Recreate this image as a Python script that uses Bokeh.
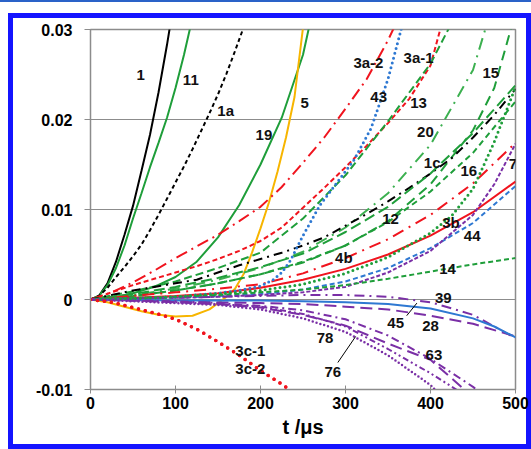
from bokeh.plotting import figure
from bokeh.models import FixedTicker, Label, ColumnDataSource
from bokeh.embed import file_html
from bokeh.resources import INLINE
from bokeh.core.properties import value

# ---------------- data (t in microseconds, S_Hj) ----------------
t_1 = [0, 10, 20, 30, 40, 50, 60, 70, 80, 90, 95]
s_1 = [0, 0.0004, 0.0018, 0.0042, 0.0072, 0.0104, 0.0143, 0.0183, 0.0230, 0.0283, 0.0312]

t_11 = [0, 10, 20, 30, 40, 50, 60, 70, 80, 90, 100, 110, 118]
s_11 = [0, 0.0004, 0.0016, 0.0035, 0.0060, 0.0090, 0.0118, 0.0147, 0.0174, 0.0202, 0.0235, 0.0272, 0.0305]

t_1a = [0, 10, 20, 30, 40, 50, 60, 70, 80, 90, 100, 110, 120, 130, 140, 150, 160, 170, 180]
s_1a = [0, 0.0004, 0.0013, 0.0025, 0.0036, 0.0048, 0.0061, 0.0077, 0.0094, 0.0112, 0.0130,
        0.0148, 0.0167, 0.0187, 0.0207, 0.0228, 0.0251, 0.0276, 0.0302]

t_19 = [0, 25, 50, 75, 100, 125, 150, 175, 200, 225, 250, 257]
s_19 = [0, 0.0002, 0.0007, 0.0014, 0.0025, 0.0042, 0.0069, 0.0105, 0.0150, 0.0202, 0.0272, 0.0302]

t_5 = [0, 20, 40, 60, 80, 100, 120, 140, 150, 160, 170, 180, 190, 200, 210, 220, 230, 240, 250]
s_5 = [0, -0.0003, -0.0008, -0.0013, -0.0017, -0.0019, -0.0018, -0.0011, -0.0004, 0.0003,
       0.0012, 0.0028, 0.0052, 0.0079, 0.0108, 0.0142, 0.0180, 0.0225, 0.0302]

t_3a2 = [0, 25, 50, 75, 100, 125, 150, 175, 200, 225, 250, 275, 300, 325, 350, 357]
s_3a2 = [0, 0.0008, 0.0019, 0.0032, 0.0046, 0.0059, 0.0072, 0.0087, 0.0103, 0.0125, 0.0152,
         0.0180, 0.0212, 0.0245, 0.0288, 0.0302]

t_43 = [0, 50, 100, 150, 175, 200, 215, 225, 235, 250, 270, 290, 310, 330, 350, 366]
s_43 = [0, 0.0001, 0.0003, 0.0007, 0.0010, 0.0015, 0.0022, 0.0030, 0.0043, 0.0071, 0.0105,
        0.0130, 0.0155, 0.0190, 0.0245, 0.0302]

t_3a1 = [0, 25, 50, 75, 100, 125, 150, 175, 200, 225, 250, 275, 300, 325, 350, 375, 400, 412]
s_3a1 = [0, 0.0008, 0.0016, 0.0023, 0.0030, 0.0037, 0.0045, 0.0054, 0.0065, 0.0080, 0.0102,
         0.0124, 0.0147, 0.0171, 0.0196, 0.0223, 0.0260, 0.0302]

t_13 = [0, 50, 100, 150, 200, 250, 300, 350, 400, 422]
s_13 = [0, 0.0009, 0.0020, 0.0035, 0.0052, 0.0090, 0.0138, 0.0198, 0.0262, 0.0302]

t_20 = [0, 50, 100, 150, 200, 250, 300, 350, 400, 450, 465]
s_20 = [0, 0.0005, 0.0012, 0.0022, 0.0035, 0.0053, 0.0080, 0.0118, 0.0172, 0.0255, 0.0302]

t_15 = [0, 50, 100, 150, 200, 250, 300, 350, 400, 450, 475, 495]
s_15 = [0, 0.0004, 0.0010, 0.0018, 0.0028, 0.0041, 0.0060, 0.0087, 0.0128, 0.0188, 0.0235, 0.0302]

t_16 = [0, 50, 100, 150, 200, 250, 300, 350, 400, 425, 450, 475, 500]
s_16 = [0, 0.0001, 0.0003, 0.0006, 0.0010, 0.0017, 0.0029, 0.0047, 0.0074, 0.0093, 0.0123, 0.0175, 0.0236]

t_g2 = [0, 50, 100, 150, 200, 250, 300, 350, 400, 450, 500]
s_g2 = [0, 0.0004, 0.0010, 0.0018, 0.0028, 0.0042, 0.0060, 0.0086, 0.0120, 0.0163, 0.0220]

t_1c = [0, 25, 50, 75, 100, 125, 150, 175, 200, 225, 250, 275, 300, 325, 350, 375, 400, 425, 450, 475, 500]
s_1c = [0, 0.0005, 0.0010, 0.0014, 0.0018, 0.0022, 0.0030, 0.0038, 0.0045, 0.0052, 0.0060,
        0.0069, 0.0082, 0.0095, 0.0109, 0.0124, 0.0140, 0.0157, 0.0180, 0.0205, 0.0234]

t_12 = [0, 50, 100, 150, 200, 250, 300, 350, 400, 450, 500]
s_12 = [0, 0.0006, 0.0014, 0.0024, 0.0036, 0.0051, 0.0075, 0.0103, 0.0140, 0.0185, 0.0238]

t_4b = [0, 50, 100, 150, 200, 250, 300, 350, 400, 450, 500]
s_4b = [0, 0.0004, 0.0008, 0.0012, 0.0017, 0.0029, 0.0046, 0.0067, 0.0094, 0.0129, 0.0174]

t_7 = [0, 50, 100, 150, 200, 250, 300, 350, 400, 450, 475, 500]
s_7 = [0, 0.0001, 0.0002, 0.0003, 0.0005, 0.0008, 0.0014, 0.0030, 0.0054, 0.0094, 0.0128, 0.0173]

t_3b = [0, 50, 100, 150, 200, 250, 300, 350, 400, 450, 500]
s_3b = [0, 0.0002, 0.0004, 0.0007, 0.0013, 0.0022, 0.0034, 0.0050, 0.0071, 0.0097, 0.0131]

t_44 = [0, 50, 100, 150, 200, 250, 300, 350, 400, 450, 500]
s_44 = [0, 0.0001, 0.0002, 0.0004, 0.0006, 0.0011, 0.0020, 0.0035, 0.0057, 0.0085, 0.0126]

t_14 = [0, 50, 100, 150, 200, 250, 300, 350, 400, 450, 500]
s_14 = [0, 0.0002, 0.0003, 0.0005, 0.0008, 0.0011, 0.0016, 0.0023, 0.0031, 0.0039, 0.0046]

t_39 = [0, 100, 200, 250, 300, 350, 400, 450, 500]
s_39 = [0, 0.0002, 0.0004, 0.0005, 0.0005, 0.0003, -0.0003, -0.0017, -0.0043]

t_28 = [0, 100, 200, 250, 300, 350, 400, 450, 500]
s_28 = [0, -0.0002, -0.0004, -0.0005, -0.0008, -0.0011, -0.0018, -0.0027, -0.0041]

t_45 = [0, 100, 200, 250, 300, 350, 400, 450, 475, 500]
s_45 = [0, -0.0001, -0.0001, -0.0002, -0.0003, -0.0005, -0.0010, -0.0021, -0.0030, -0.0042]

t_78 = [0, 50, 100, 150, 200, 250, 300, 350, 400, 406]
s_78 = [0, -0.0002, -0.0004, -0.0006, -0.0011, -0.0021, -0.0036, -0.0062, -0.0095, -0.0101]

t_76 = [0, 50, 100, 150, 200, 250, 300, 350, 400, 432]
s_76 = [0, -0.0001, -0.0003, -0.0005, -0.0008, -0.0016, -0.0030, -0.0055, -0.0082, -0.0101]

t_p2 = [0, 50, 100, 150, 200, 250, 300, 350, 400, 441]
s_p2 = [0, -0.0001, -0.0003, -0.0005, -0.0009, -0.0017, -0.0029, -0.0049, -0.0067, -0.0101]

t_63 = [0, 50, 100, 150, 200, 250, 300, 350, 400, 450, 455]
s_63 = [0, -0.0001, -0.0002, -0.0004, -0.0007, -0.0012, -0.0022, -0.0040, -0.0066, -0.0097, -0.0101]

t_3c1 = [0, 25, 50, 75, 100, 125, 150, 175, 200, 225, 240]
s_3c1 = [0, -0.0003, -0.0009, -0.0015, -0.0022, -0.0033, -0.0047, -0.0062, -0.0079, -0.0094, -0.0104]

t_3c2 = [0, 25, 50, 75, 100, 125, 150, 175, 200, 225, 240]
s_3c2 = [0, -0.0003, -0.0009, -0.0015, -0.0022, -0.0033, -0.0047, -0.0062, -0.0079, -0.0094, -0.0104]

x_ticks = [0, 100, 200, 300, 400, 500]
y_ticks = [-0.01, 0, 0.01, 0.02, 0.03]
y_tick_labels = ["-0.01", "0", "0.01", "0.02", "0.03"]

# curve labels
lab_text = ["1", "11", "1a", "19", "5", "3a-2", "3a-1", "43", "13", "15", "20", "1c", "16", "7",
            "12", "3b", "44", "4b", "14", "39", "45", "28", "78", "76", "63", "3c-1", "3c-2"]
lab_t = [59, 118, 159, 204, 252, 327, 386, 339, 386, 471, 394, 402, 445, 497,
         353, 424, 449, 298, 420, 415, 359, 400, 276, 285, 404, 188, 188]
lab_s = [0.0249, 0.0244, 0.0210, 0.0183, 0.0218, 0.0263, 0.0269, 0.0225, 0.0218, 0.0252, 0.0186,
         0.0152, 0.0143, 0.0151, 0.0090, 0.0086, 0.0071, 0.0047, 0.0034, 0.0002, -0.0026,
         -0.0029, -0.0043, -0.0081, -0.0062, -0.0057, -0.0077]

# ---------------- colours ----------------
BLACK = "#000000"
GREEN = "#1f9e3a"
LGREEN = "#3cb050"
RED = "#f0141e"
YELLOW = "#f7b500"
BLUE = "#2e78d2"
PURPLE = "#7a2fa6"
FRAME_BLUE = "#1414ff"

p = figure(width=531, height=449, x_range=(0, 500), y_range=(-0.01, 0.03),
           output_backend="svg", toolbar_location=None,
           min_border_left=90, min_border_right=16, min_border_top=29, min_border_bottom=60)
bar = "linear-gradient({0},{0})".format(FRAME_BLUE)
p.styles = {"background": ", ".join([
    bar + " 8px 13px / 523px 5px no-repeat",
    bar + " 8px 444px / 523px 5px no-repeat",
    bar + " 8px 13px / 5px 436px no-repeat",
    bar + " 526px 13px / 5px 436px no-repeat",
    "linear-gradient(#2a62c8,#2a62c8) 0px 0px / 531px 2px no-repeat",
    "#ffffff"])}
p.background_fill_color = "white"
p.border_fill_color = None
p.outline_line_color = "#8c8c8c"
p.outline_line_width = 1.5
p.xgrid.visible = False
p.ygrid.grid_line_color = "#8c8c8c"
p.ygrid.grid_line_width = 1

p.xaxis.ticker = FixedTicker(ticks=x_ticks)
p.yaxis.ticker = FixedTicker(ticks=y_ticks)
p.yaxis.major_label_overrides = {v: s for v, s in zip(y_ticks, y_tick_labels)}
for ax in (p.xaxis[0], p.yaxis[0]):
    ax.axis_line_color = "#8c8c8c"
    ax.major_tick_line_color = "#8c8c8c"
    ax.minor_tick_line_color = None
    ax.major_label_text_font = "Liberation Sans"
    ax.major_label_text_font_style = "bold"
    ax.major_label_text_font_size = "16px"
    ax.major_label_text_color = "black"
p.xaxis.major_tick_in = 4
p.xaxis.major_tick_out = 4
p.yaxis.major_tick_in = 0
p.yaxis.major_tick_out = 6
p.yaxis.major_label_standoff = 12
p.xaxis.major_label_standoff = 3
p.xaxis.axis_label = "t /\u03bcs"
p.xaxis.axis_label_text_font = "Liberation Sans"
p.xaxis.axis_label_text_font_style = "bold"
p.xaxis.axis_label_text_font_size = "20px"
p.xaxis.axis_label_text_color = "black"
p.xaxis.axis_label_standoff = 4

curves = [
    (t_1, s_1, BLACK, 2, "solid"),
    (t_11, s_11, GREEN, 2, "solid"),
    (t_1a, s_1a, BLACK, 2, "4 3"),
    (t_19, s_19, GREEN, 2, "solid"),
    (t_5, s_5, YELLOW, 2, "solid"),
    (t_3a2, s_3a2, RED, 2, "12 5 2 5"),
    (t_3a1, s_3a1, RED, 2, "5 3"),
    (t_13, s_13, GREEN, 2, "8 4"),
    (t_20, s_20, LGREEN, 2, "12 6 2 6"),
    (t_15, s_15, GREEN, 2, "10 6"),
    (t_g2, s_g2, GREEN, 2, "6 4"),
    (t_1c, s_1c, BLACK, 2, "9 5 2 5"),
    (t_12, s_12, GREEN, 2, "11 5"),
    (t_4b, s_4b, RED, 2, "12 6 2 6"),
    (t_44, s_44, BLUE, 2, "5 3"),
    (t_3b, s_3b, RED, 2, "solid"),
    (t_7, s_7, PURPLE, 2, "4 2"),
    (t_14, s_14, GREEN, 2, "5 3"),
    (t_39, s_39, PURPLE, 2, "10 5 2 5"),
    (t_28, s_28, PURPLE, 2, "12 6"),
    (t_45, s_45, BLUE, 2, "solid"),
    (t_76, s_76, PURPLE, 2, "6 3 2 3 2 3"),
    (t_p2, s_p2, PURPLE, 2, "12 6"),
    (t_63, s_63, PURPLE, 2, "8 4 2 4"),
]
for t, s, c, w, dash in curves:
    p.line(t, s, line_color=c, line_width=w, line_dash=dash)

dotted = [
    (t_43, s_43, BLUE, 3, "0 5"),
    (t_16, s_16, GREEN, 3, "0 5"),
    (t_78, s_78, PURPLE, 2.5, "0 4"),
    (t_3c1, s_3c1, RED, 3.5, "0 7"),
    (t_3c2, s_3c2, RED, 3.5, "0 7"),
]
for t, s, c, w, dash in dotted:
    p.line(t, s, line_color=c, line_width=w, line_dash=dash, line_cap="round")

# leader lines for labels 45 and 76
p.line([372, 384], [-0.0018, -0.0004], line_color="black", line_width=1)
p.line([291, 312], [-0.0070, -0.0041], line_color="black", line_width=1)

src = ColumnDataSource(dict(x=lab_t, y=lab_s, text=lab_text))
p.text(x="x", y="y", text="text", source=src, text_font=value("Liberation Sans"),
       text_font_style="bold", text_font_size="15px", text_align="center",
       text_baseline="middle", text_color="#111111")

p.add_layout(Label(x=-63, y=0.0160, text="S", text_font="Liberation Sans",
                   text_font_style="bold", text_font_size="21px", text_align="left",
                   text_baseline="middle"))
p.add_layout(Label(x=-47, y=0.0146, text="Hj", text_font="Liberation Sans",
                   text_font_style="bold", text_font_size="14px", text_align="left",
                   text_baseline="middle"))

open("out.html", "w").write(file_html(p, INLINE))
